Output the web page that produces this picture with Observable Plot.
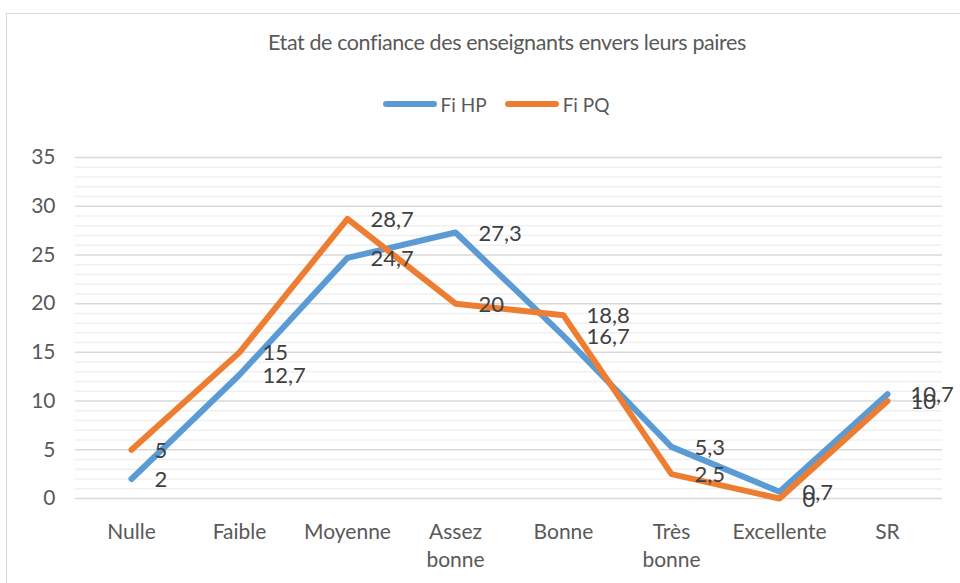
<!DOCTYPE html>
<html>
<head>
<meta charset="utf-8">
<script src="https://cdn.jsdelivr.net/npm/d3@7"></script>
<script src="https://cdn.jsdelivr.net/npm/@observablehq/plot@0.6"></script>
<style>
  html, body { margin: 0; padding: 0; background: #fff; }
  body { width: 960px; height: 583px; position: relative; overflow: hidden; font-family: Lato, "Open Sans", sans-serif; }
  #frame { position: absolute; left: 6px; top: 13px; width: 980px; height: 620px; border: 1.5px solid #d9d9d9; box-sizing: border-box; }
  #title { position: absolute; top: 29px; left: 0; width: 1014px; text-align: center; font-size: 21.5px; color: #595959; letter-spacing: -0.4px; }
  #legend { position: absolute; top: 88px; left: 0; width: 992px; text-align: center; font-size: 19px; color: #595959; }
  #legend span.item { display: inline-flex; align-items: center; margin: 0 9px; }
  #legend span.sw { display: inline-block; width: 54px; height: 6px; border-radius: 3px; margin-right: 4px; }
  #chart { position: absolute; left: 0; top: 130px; }
</style>
</head>
<body>
<div id="frame"></div>
<div id="title">Etat de confiance des enseignants envers leurs paires</div>
<div id="legend"></div>
<div id="chart"></div>
<script>
const categories = ["Nulle", "Faible", "Moyenne", "Assez bonne", "Bonne", "Très bonne", "Excellente", "SR"];
const seriesNames = ["Fi HP", "Fi PQ"];
const fiHP = [2, 12.7, 24.7, 27.3, 16.7, 5.3, 0.7, 10.7];
const fiPQ = [5, 15, 28.7, 20, 18.8, 2.5, 0, 10];
const colors = ["#5B9BD5", "#ED7D31"];
const yTicks = [0, 5, 10, 15, 20, 25, 30, 35];

const data = [];
categories.forEach((c, i) => {
  data.push({cat: c, series: seriesNames[0], value: fiHP[i]});
});
categories.forEach((c, i) => {
  data.push({cat: c, series: seriesNames[1], value: fiPQ[i]});
});
const minor = d3.range(0, 36, 1).filter(v => v % 5 !== 0);

const fmt = v => String(v).replace(".", ",");
const catLabel = c => c.replace(" ", "\n");

const legend = document.getElementById("legend");
seriesNames.forEach((s, i) => {
  const it = document.createElement("span");
  it.className = "item";
  it.innerHTML = `<span class="sw" style="background:${colors[i]}"></span>${s}`;
  legend.appendChild(it);
});

const chart = Plot.plot({
  width: 960,
  height: 453,
  marginLeft: 75,
  marginRight: 18,
  marginTop: 27,
  marginBottom: 85,
  style: {fontFamily: "Lato, 'Open Sans', sans-serif", background: "transparent"},
  x: {type: "point", domain: categories, padding: 0.5, align: 0.5},
  y: {domain: [0, 35], range: [368, 27]},
  color: {domain: seriesNames, range: colors},
  marks: [
    Plot.ruleY(minor, {stroke: "#f0f0f0", strokeWidth: 1.5}),
    Plot.ruleY(yTicks, {stroke: "#d9d9d9", strokeWidth: 1.5}),
    Plot.axisY({ticks: yTicks, tickSize: 0, tickPadding: 20, fontSize: 21, color: "#595959", label: null}),
    Plot.axisX({tickSize: 0, tickPadding: 20, fontSize: 21, color: "#595959", label: null, tickFormat: catLabel, lineHeight: 1.35}),
    Plot.line(data, {x: "cat", y: "value", z: "series", stroke: "series", strokeWidth: 6, strokeLinecap: "round", strokeLinejoin: "round"}),
    Plot.text(data, {x: "cat", y: "value", text: d => fmt(d.value), dx: 23, dy: 1, textAnchor: "start", fontSize: 22, fill: "#404040"})
  ]
});
document.getElementById("chart").appendChild(chart);
</script>
</body>
</html>
